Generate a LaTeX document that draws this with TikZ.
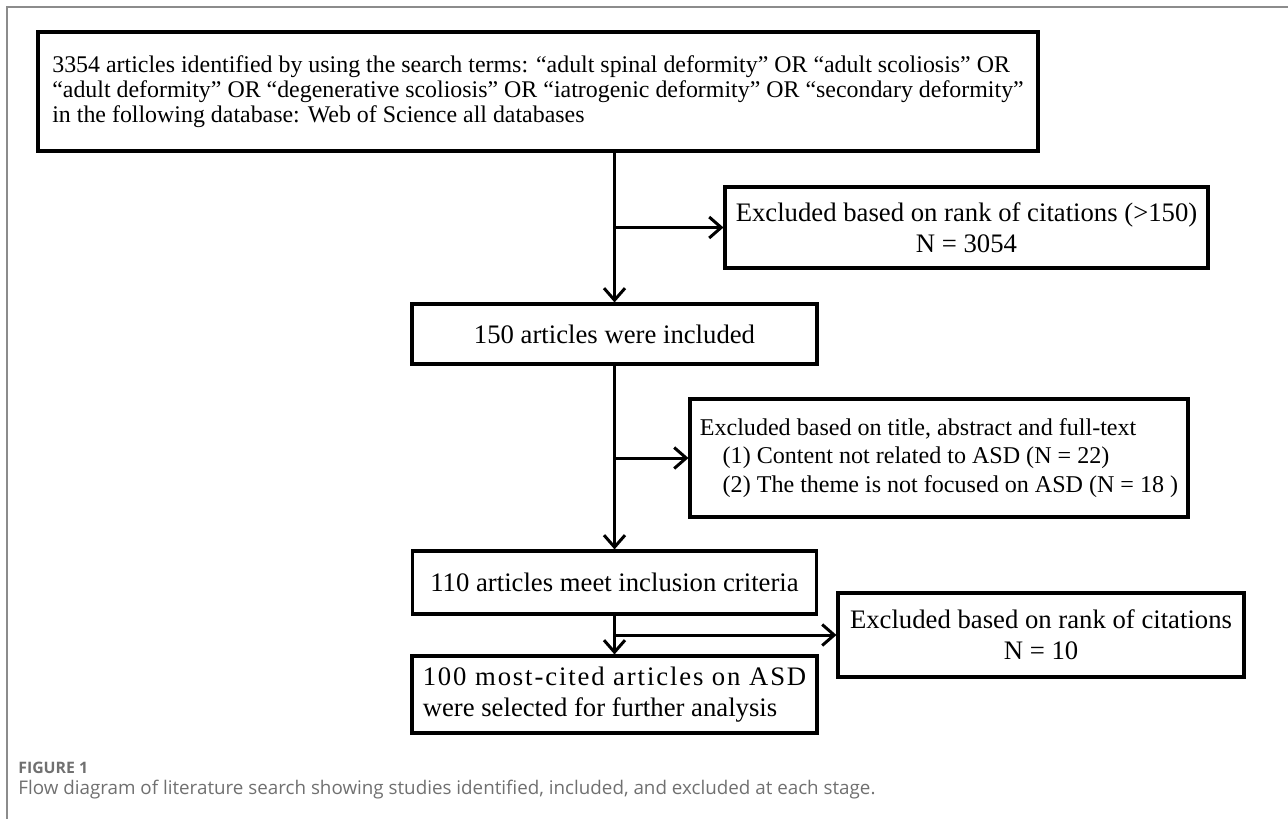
\documentclass[tikz,border=0pt]{standalone}
\usepackage{fontspec}
\setmainfont{Liberation Serif}
\newfontfamily\capfont{Open Sans}
\usetikzlibrary{arrows.meta,calc}
\definecolor{ink}{HTML}{000000}
\definecolor{framegrey}{HTML}{8C8C8C}
\definecolor{capgrey}{HTML}{707070}
\tikzset{
  smalltx/.style={font=\fontsize{13.6}{14.4}\selectfont},
  midtx/.style={font=\fontsize{13.7}{16.2}\selectfont},
  bigtx/.style={font=\fontsize{15.2}{17.6}\selectfont},
}
\newcommand{\stage}[6]{%
  \node[draw=ink,line width=1.8pt,fill=white,minimum width=#3,
        minimum height=#4,inner sep=4pt,text=ink,#5]
       (#1) at #2 {#6};}

\begin{document}
\begin{tikzpicture}[x=0.02cm,y=-0.02cm]
  \useasboundingbox (0,0) rectangle (1288,819);

  % Page frame, open at right and bottom.
  \draw[framegrey,line width=0.7pt] (1288,7) -- (7,7) -- (7,819);

  % Main column
  \stage{search}{(538,91.5)}{20cm}{2.38cm}{align=left,smalltx,line width=2.2pt}{%
    3354 articles identified by using the search terms: “adult spinal deformity” OR “adult scoliosis” OR\\
    “adult deformity” OR “degenerative scoliosis” OR “iatrogenic deformity” OR “secondary deformity”\\
    in the following database: Web of Science all databases}
  \stage{included}{(614.5,334)}{8.1cm}{1.2cm}{bigtx}{150 articles were included}
  \stage{eligible}{(614.5,582.5)}{8.08cm}{1.26cm}{bigtx}{110 articles meet inclusion criteria}
  \stage{final}{(614.5,694.5)}{8.1cm}{1.54cm}{align=left,bigtx}{%
    {\addfontfeature{LetterSpace=7}100 most-cited articles on ASD}\\
    were selected for further analysis}
  % Exclusions
  \stage{citeout}{(966.5,227.5)}{9.66cm}{1.62cm}{align=center,bigtx}{%
    Excluded based on rank of citations (>150)\\N = 3054}
  \stage{fullout}{(939,458)}{9.96cm}{2.36cm}{align=left,midtx}{%
    Excluded based on title, abstract and full-text\\
    \hspace*{0.95em}(1) Content not related to ASD (N = 22)\\
    \hspace*{0.95em}(2) The theme is not focused on ASD (N = 18 )}
  \stage{topout}{(1041,635)}{8.12cm}{1.68cm}{align=center,bigtx}{%
    Excluded based on rank of citations\\N = 10}

  \begin{scope}[-{Straight Barb[length=2.4mm,width=4.2mm]},ink,line width=1.7pt]
    \draw (search.south -| included) -- (included);
    \draw (included |- citeout) -- (citeout);
    \draw (included) -- (eligible);
    \draw (included |- fullout) -- (fullout);
    \draw (eligible) -- (final);
    \draw (eligible |- topout) -- (topout);
  \end{scope}

  % Caption
  \node[anchor=west,inner sep=0pt,text=capgrey,
        font=\capfont\fontsize{9}{10}\selectfont\bfseries]
       (figlabel) at (18,768) {FIGURE 1};
  \node[anchor=west,inner sep=0pt,text=capgrey,
        font=\capfont\fontsize{10.7}{12}\selectfont]
       (figcaption) at (18,790)
       {Flow diagram of literature search showing studies identified, included, and excluded at each stage.};
\end{tikzpicture}
\end{document}
